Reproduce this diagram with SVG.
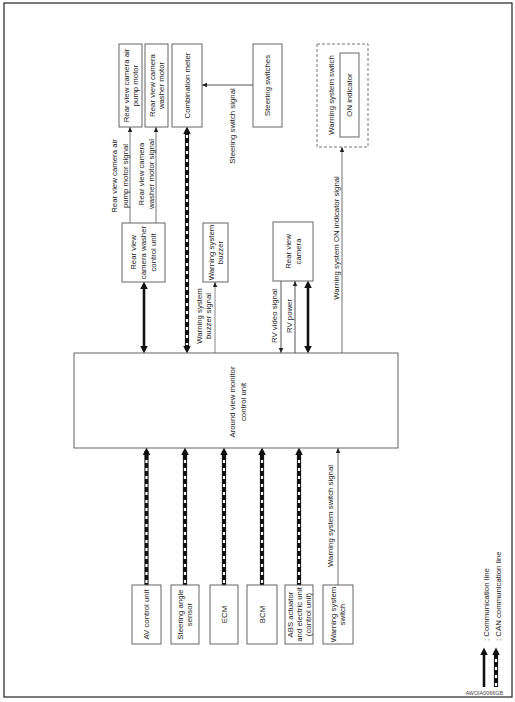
<svg xmlns="http://www.w3.org/2000/svg" width="515" height="702" viewBox="0 0 515 702">
<style>
.box{fill:#fff;stroke:#555;stroke-width:0.9}
.dbox{fill:#fff;stroke:#777;stroke-width:1;stroke-dasharray:3 2}
text{font-family:"Liberation Sans",Arial,Helvetica,sans-serif;font-size:7.8px;fill:#222;text-anchor:middle}
.ls{text-anchor:start}
.thin{fill:none;stroke:#555;stroke-width:1}
.gray{fill:none;stroke:#999;stroke-width:1.4}
.thick{fill:none;stroke:#111;stroke-width:2.6}
.canb{fill:none;stroke:#111;stroke-width:4.2}
.canw{fill:none;stroke:#fff;stroke-width:2.2;stroke-dasharray:3 5}
</style>
<defs>
<marker id="ah" markerUnits="userSpaceOnUse" markerWidth="6" markerHeight="5" refX="5" refY="2.25" orient="auto-start-reverse"><path d="M0,0 L5,2.25 L0,4.5 z" fill="#222"/></marker>
<marker id="ahk" markerUnits="userSpaceOnUse" markerWidth="9" markerHeight="8" refX="4" refY="3.75" orient="auto-start-reverse"><path d="M0,0 L7.5,3.75 L0,7.5 z" fill="#111"/></marker>
</defs>
<rect x="4" y="3" width="508" height="694" fill="#fff" stroke="#222" stroke-width="1.2"/>

<g id="connectors">
<line class="thin" x1="253" y1="85" x2="202" y2="85" marker-end="url(#ah)"/>
<line class="thin" x1="130" y1="223" x2="130" y2="127" marker-end="url(#ah)" style="stroke:#777"/>
<line class="thin" x1="156" y1="223" x2="156" y2="127" marker-end="url(#ah)" style="stroke:#777"/>
<line class="canb" x1="187" y1="130" x2="187" y2="350" marker-start="url(#ahk)" marker-end="url(#ahk)"/>
<line class="canw" x1="187" y1="135" x2="187" y2="345"/>
<line class="thick" x1="144" y1="285" x2="144" y2="350" marker-start="url(#ahk)" marker-end="url(#ahk)"/>
<line class="thin" x1="215" y1="353" x2="215" y2="282" marker-end="url(#ah)" style="stroke:#888"/>
<line class="thin" x1="281" y1="281" x2="281" y2="353" marker-end="url(#ah)"/>
<line class="thin" x1="295" y1="353" x2="295" y2="281" marker-end="url(#ah)"/>
<line class="thick" x1="308" y1="284" x2="308" y2="350" marker-start="url(#ahk)" marker-end="url(#ahk)"/>
<line class="gray" x1="342" y1="353" x2="342" y2="147" marker-end="url(#ah)"/>
<line class="canb" x1="146.5" y1="585" x2="146.5" y2="451" marker-end="url(#ahk)"/>
<line class="canw" x1="146.5" y1="583" x2="146.5" y2="456"/>
<line class="canb" x1="185" y1="585" x2="185" y2="451" marker-end="url(#ahk)"/>
<line class="canw" x1="185" y1="583" x2="185" y2="456"/>
<line class="canb" x1="224" y1="585" x2="224" y2="451" marker-end="url(#ahk)"/>
<line class="canw" x1="224" y1="583" x2="224" y2="456"/>
<line class="canb" x1="262" y1="585" x2="262" y2="451" marker-end="url(#ahk)"/>
<line class="canw" x1="262" y1="583" x2="262" y2="456"/>
<line class="canb" x1="299" y1="585" x2="299" y2="451" marker-end="url(#ahk)"/>
<line class="canw" x1="299" y1="583" x2="299" y2="456"/>
<line class="gray" x1="338" y1="585" x2="338" y2="448" marker-end="url(#ah)"/>
<text transform="translate(232,126) rotate(-90)"><tspan x="0" y="2.8">Steering switch signal</tspan></text>
<text transform="translate(119.5,176) rotate(-90)"><tspan x="0" y="-2.7">Rear view camera air</tspan><tspan x="0" y="8.3">pump motor signal</tspan></text>
<text transform="translate(146,174) rotate(-90)"><tspan x="0" y="-2.2">Rear view camera</tspan><tspan x="0" y="7.8">washer motor signal</tspan></text>
<text transform="translate(203.5,316) rotate(-90)"><tspan x="0" y="-1.7">Warning system</tspan><tspan x="0" y="7.3">buzzer signal</tspan></text>
<text transform="translate(274,316) rotate(-90)"><tspan x="0" y="2.8">RV video signal</tspan></text>
<text transform="translate(289,316) rotate(-90)"><tspan x="0" y="2.8">RV power</tspan></text>
<text transform="translate(336,238) rotate(-90)"><tspan x="0" y="2.8">Warning system ON indicator signal</tspan></text>
<text transform="translate(330,516) rotate(-90)"><tspan x="0" y="2.8">Warning system switch signal</tspan></text>
</g>

<g id="n-airpump"><rect class="box" x="119" y="44" width="23" height="83"/>
<text transform="translate(130.5,85.5) rotate(-90)"><tspan x="0" y="-1.7">Rear view camera air</tspan><tspan x="0" y="7.3">pump motor</tspan></text></g>
<g id="n-washermotor"><rect class="box" x="145" y="44" width="23" height="83"/>
<text transform="translate(156.5,85.5) rotate(-90)"><tspan x="0" y="-1.7">Rear view camera</tspan><tspan x="0" y="7.3">washer motor</tspan></text></g>
<g id="n-combmeter"><rect class="box" x="172" y="44" width="30" height="83"/>
<text transform="translate(187,85.5) rotate(-90)"><tspan x="0" y="2.8">Combination meter</tspan></text></g>
<g id="n-steersw"><rect class="box" x="253" y="44" width="29" height="83"/>
<text transform="translate(267.5,85.5) rotate(-90)"><tspan x="0" y="2.8">Steering switches</tspan></text></g>
<g id="n-warnsw-top"><rect class="dbox" x="317" y="44" width="51" height="103"/>
<text transform="translate(331.5,95) rotate(-90)"><tspan x="0" y="2.8">Warning system switch</tspan></text>
<g id="n-onind"><rect class="box" x="340" y="53" width="19" height="84"/>
<text transform="translate(349.5,95) rotate(-90)"><tspan x="0" y="2.8">ON indicator</tspan></text></g></g>

<g id="n-washerctrl"><rect class="box" x="122" y="223" width="43" height="59"/>
<text transform="translate(143.5,252.5) rotate(-90)"><tspan x="0" y="-7.2">Rear view</tspan><tspan x="0" y="2.8">camera washer</tspan><tspan x="0" y="12.8">control unit</tspan></text></g>
<g id="n-buzzer"><rect class="box" x="203" y="223" width="25" height="59"/>
<text transform="translate(215.5,252.5) rotate(-90)"><tspan x="0" y="-1.7">Warning system</tspan><tspan x="0" y="7.3">buzzer</tspan></text></g>
<g id="n-rvcam"><rect class="box" x="273" y="222" width="40" height="59"/>
<text transform="translate(293,251.5) rotate(-90)"><tspan x="0" y="-2.2">Rear view</tspan><tspan x="0" y="7.8">camera</tspan></text></g>

<g id="n-avm"><rect class="box" x="74" y="353" width="324" height="95"/>
<text transform="translate(238,402) rotate(-90)"><tspan x="0" y="-2.7">Around view monitor</tspan><tspan x="0" y="8.3">control unit</tspan></text></g>

<g id="n-avctrl"><rect class="box" x="132" y="585" width="29" height="59"/>
<text transform="translate(146.5,614.5) rotate(-90)"><tspan x="0" y="2.8">AV control unit</tspan></text></g>
<g id="n-steerangle"><rect class="box" x="171" y="585" width="28" height="59"/>
<text transform="translate(185,614.5) rotate(-90)"><tspan x="0" y="-1.7">Steering angle</tspan><tspan x="0" y="7.3">sensor</tspan></text></g>
<g id="n-ecm"><rect class="box" x="210" y="585" width="28" height="59"/>
<text transform="translate(224,614.5) rotate(-90)"><tspan x="0" y="2.8">ECM</tspan></text></g>
<g id="n-bcm"><rect class="box" x="247" y="585" width="30" height="59"/>
<text transform="translate(262,614.5) rotate(-90)"><tspan x="0" y="2.8">BCM</tspan></text></g>
<g id="n-abs"><rect class="box" x="285" y="585" width="28" height="59"/>
<text transform="translate(299.5,614.5) rotate(-90)"><tspan x="0" y="-6.2">ABS actuator</tspan><tspan x="0" y="2.8">and electric unit</tspan><tspan x="0" y="11.8">(control unit)</tspan></text></g>
<g id="n-warnsw"><rect class="box" x="323" y="585" width="30" height="59"/>
<text transform="translate(338,614.5) rotate(-90)"><tspan x="0" y="-1.7">Warning system</tspan><tspan x="0" y="7.3">switch</tspan></text></g>

<g id="legend">
<line class="thick" x1="484" y1="687" x2="484" y2="651" marker-end="url(#ahk)"/>
<line class="canb" x1="496" y1="687" x2="496" y2="651" marker-end="url(#ahk)"/>
<line class="canw" x1="496" y1="686" x2="496" y2="655"/>
<text class="ls" transform="translate(489,641) rotate(-90)">: Communication line</text>
<text class="ls" transform="translate(501,641) rotate(-90)">: CAN communication line</text>
</g>
<text x="503" y="694.5" style="font-size:5.4px;text-anchor:end;fill:#444">AWOIA0066GB</text>
</svg>
